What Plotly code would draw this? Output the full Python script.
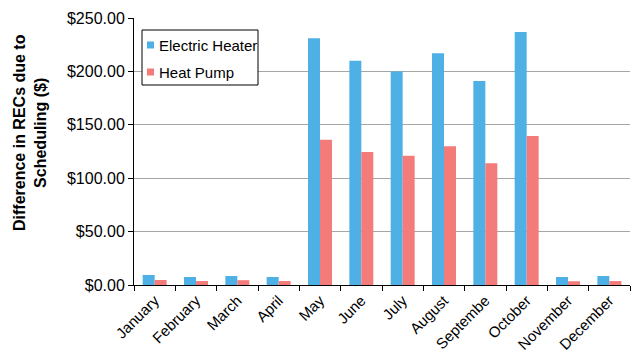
import plotly.graph_objects as go

months = ["January", "February", "March", "April", "May", "June", "July",
          "August", "Septembe", "October", "November", "December"]
electric_heater = [9.4, 7.5, 8.4, 7.5, 231, 210, 200, 217, 191, 237, 7.5, 8.4]
heat_pump = [4.7, 3.7, 4.5, 3.7, 136, 124.5, 121, 130, 114, 139.5, 3.5, 3.7]
y_ticks = [0, 50, 100, 150, 200, 250]
y_tick_labels = ["$0.00", "$50.00", "$100.00", "$150.00", "$200.00", "$250.00"]
series_names = ["Electric Heater", "Heat Pump"]
series_colors = ["#4eb0e4", "#f37b79"]

fig = go.Figure()
for name, vals, col in zip(series_names, [electric_heater, heat_pump], series_colors):
    fig.add_trace(go.Bar(x=months, y=vals, name=name,
                         marker=dict(color=col, line=dict(width=0))))

font = "Liberation Sans, Arial, sans-serif"

# plot area in pixels: x 134..630, y 18..285
L, R, T, B = 134, 630, 18, 285
def px(x):
    return (x - L) / (R - L)
def py(y):
    return (B - y) / (B - T)

shapes = [dict(type="rect", xref="paper", yref="paper",
               x0=px(142), x1=px(258), y0=py(85), y1=py(30),
               line=dict(color="black", width=1), fillcolor="white", layer="above")]
annotations = [dict(text="<b>Difference in RECs due to<br>Scheduling ($)</b>",
                    xref="paper", yref="paper", x=px(30), y=py(133),
                    xanchor="center", yanchor="middle", textangle=-90,
                    showarrow=False, font=dict(size=16, family=font))]
for i, (name, col) in enumerate(zip(series_names, series_colors)):
    yc = 45 + 27 * i
    shapes.append(dict(type="rect", xref="paper", yref="paper",
                       x0=px(147), x1=px(154), y0=py(yc + 3.5), y1=py(yc - 3.5),
                       line=dict(width=0), fillcolor=col, layer="above"))
    annotations.append(dict(text=name, xref="paper", yref="paper",
                            x=px(157), y=py(yc), xanchor="left", yanchor="middle",
                            showarrow=False, font=dict(size=15, family=font)))

fig.update_layout(
    width=638, height=353,
    margin=dict(l=L, r=638 - R, t=T, b=353 - B),
    paper_bgcolor="white", plot_bgcolor="white",
    barmode="group", bargap=0.42, bargroupgap=0,
    font=dict(family=font, color="black", size=14),
    showlegend=False,
    xaxis=dict(tickangle=-45, showline=True, linecolor="black", linewidth=1,
               ticks="outside", tickson="boundaries", ticklen=5,
               tickcolor="black", tickfont=dict(size=15, family=font),
               showgrid=False, automargin=False),
    yaxis=dict(range=[0, 250], tickvals=y_ticks, ticktext=y_tick_labels,
               showline=True, linecolor="black", linewidth=1,
               ticks="outside", ticklen=5, tickcolor="black",
               tickfont=dict(size=16, family=font),
               showgrid=True, gridcolor="#a6a6a6", gridwidth=1,
               zeroline=False, automargin=False),
    shapes=shapes,
    annotations=annotations,
)
fig.write_html("out.html", config={"displayModeBar": False},
               post_script="document.body.style.margin='0';document.body.style.overflow='hidden';")
